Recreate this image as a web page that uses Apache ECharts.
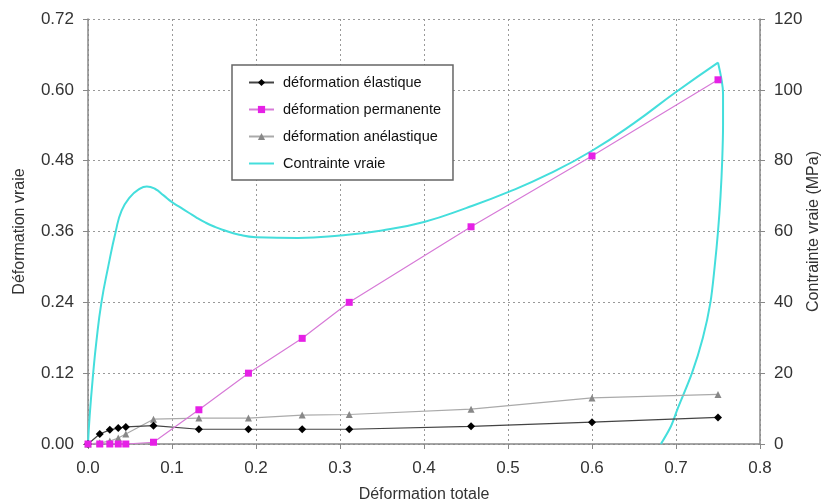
<!DOCTYPE html>
<html>
<head>
<meta charset="utf-8">
<script src="https://cdn.jsdelivr.net/npm/echarts@6/dist/echarts.min.js"></script>
<style>
	html, body { margin: 0; padding: 0; background: #fff; }
	#main { width: 825px; height: 504px; }
</style>
</head>
<body>
<div id="main"></div>
<script>
// déformations (axe gauche), mêmes abscisses pour les trois séries
var defTotale = [0, 0.014, 0.026, 0.036, 0.045, 0.078, 0.132, 0.191, 0.255, 0.311, 0.456, 0.6, 0.75];
var defElastique = [0, 0.017, 0.024, 0.027, 0.029, 0.031, 0.025, 0.025, 0.025, 0.025, 0.030, 0.037, 0.045];
var defPermanente = [0, 0, 0, 0, 0, 0.003, 0.058, 0.12, 0.179, 0.24, 0.368, 0.488, 0.617];
var defAnelastique = [0, 0.002, 0.005, 0.010, 0.017, 0.042, 0.044, 0.044, 0.049, 0.050, 0.059, 0.078, 0.084];

// contrainte vraie (axe droit, MPa) : charge
var chargeX = [0, 0.002, 0.006, 0.01, 0.016, 0.024, 0.033, 0.04, 0.05, 0.06, 0.07, 0.08, 0.09, 0.1, 0.11, 0.12, 0.13, 0.14, 0.15, 0.16, 0.18, 0.2, 0.25, 0.3, 0.35, 0.4, 0.45, 0.5, 0.55, 0.6, 0.65, 0.7, 0.75];
var chargeY = [0, 8, 19.5, 29, 40, 50, 60, 65.9, 69.7, 71.8, 72.7, 72, 70.2, 68.3, 66.8, 65.3, 63.8, 62.5, 61.4, 60.5, 59.1, 58.4, 58.2, 58.9, 60.3, 62.7, 66.6, 71.1, 76.4, 82.8, 90.6, 99.4, 107.7];
// décharge
var dechargeX = [0.75, 0.756, 0.756, 0.755, 0.753, 0.75, 0.746, 0.741, 0.732, 0.719, 0.702, 0.694, 0.682];
var dechargeY = [107.7, 99, 90, 80, 70, 60, 50, 40, 30, 20, 10, 5, 0];

var xTicks = ['0.0', '0.1', '0.2', '0.3', '0.4', '0.5', '0.6', '0.7', '0.8'];

function paires(xs, ys) {
	var out = [];
	for (var i = 0; i < xs.length; i++) {
		out.push([xs[i], ys[i]]);
	}
	return out;
}

var chart = echarts.init(document.getElementById('main'));
var police = 'Liberation Sans, Arial, sans-serif';
var grille = { show: true, lineStyle: { color: '#999', type: [2, 3], width: 1 } };
var cyan = '#44dedc';

var option = {
	backgroundColor: '#fff',
	animation: false,
	textStyle: { fontFamily: police },
	grid: { left: 88, right: 65, top: 19, bottom: 60, containLabel: false, outerBoundsMode: 'none' },
	legend: {
		orient: 'vertical',
		left: 232,
		top: 65,
		padding: [10, 12, 9, 16],
		itemWidth: 25,
		itemHeight: 9,
		itemGap: 12,
		borderColor: '#666',
		borderWidth: 1.5,
		backgroundColor: '#fff',
		textStyle: { fontSize: 14.5, color: '#111', fontFamily: police, padding: [0, 0, 0, 4] },
		data: [
			'déformation élastique',
			'déformation permanente',
			'déformation anélastique',
			{ name: 'Contrainte vraie', itemStyle: { opacity: 0 } }
		]
	},
	xAxis: {
		type: 'value',
		min: 0,
		max: 0.8,
		interval: 0.1,
		name: 'Déformation totale',
		nameLocation: 'middle',
		nameGap: 43,
		nameTextStyle: { fontSize: 16, color: '#333' },
		axisLine: { lineStyle: { color: '#888', width: 1.5 } },
		axisTick: { show: true, length: 5, lineStyle: { color: '#888' } },
		axisLabel: {
			fontSize: 17, color: '#333', margin: 16,
			formatter: function (v) { return xTicks[Math.round(v * 10)]; }
		},
		splitLine: grille
	},
	yAxis: [
		{
			type: 'value',
			min: 0,
			max: 0.72,
			interval: 0.12,
			name: 'Déformation vraie',
			nameLocation: 'middle',
			nameGap: 60,
			nameMoveOverlap: false,
			nameTextStyle: { fontSize: 16, color: '#333' },
			axisLine: { show: true, lineStyle: { color: '#888', width: 1.5 } },
			axisTick: { show: true, length: 5, lineStyle: { color: '#888' } },
			axisLabel: {
				fontSize: 17, color: '#333', margin: 14,
				formatter: function (v) { return v.toFixed(2); }
			},
			splitLine: grille
		},
		{
			type: 'value',
			min: 0,
			max: 120,
			interval: 20,
			name: 'Contrainte vraie (MPa)',
			nameLocation: 'middle',
			nameGap: 46,
			nameMoveOverlap: false,
			nameTextStyle: { fontSize: 16, color: '#333' },
			axisLine: { show: true, lineStyle: { color: '#888', width: 1.5 } },
			axisTick: { show: true, length: 5, lineStyle: { color: '#888' } },
			axisLabel: { fontSize: 17, color: '#333', margin: 14 },
			splitLine: { show: false }
		}
	],
	series: [
		{
			name: 'Contrainte vraie',
			type: 'line',
			yAxisIndex: 1,
			data: paires(chargeX, chargeY),
			smooth: 0.5,
			showSymbol: false,
			symbol: 'none',
			lineStyle: { color: cyan, width: 2 },
			itemStyle: { color: cyan },
			z: 2
		},
		{
			name: 'Contrainte vraie',
			type: 'line',
			yAxisIndex: 1,
			data: paires(dechargeX, dechargeY),
			smooth: 0.3,
			showSymbol: false,
			symbol: 'none',
			lineStyle: { color: cyan, width: 2 },
			itemStyle: { color: cyan },
			z: 2
		},
		{
			name: 'déformation anélastique',
			type: 'line',
			data: paires(defTotale, defAnelastique),
			symbol: 'triangle',
			symbolSize: 7,
			lineStyle: { color: '#aaa', width: 1.2 },
			itemStyle: { color: '#888' },
			z: 3
		},
		{
			name: 'déformation élastique',
			type: 'line',
			data: paires(defTotale, defElastique),
			symbol: 'diamond',
			symbolSize: 8,
			lineStyle: { color: '#444', width: 1.2 },
			itemStyle: { color: '#000' },
			z: 4
		},
		{
			name: 'déformation permanente',
			type: 'line',
			data: paires(defTotale, defPermanente),
			symbol: 'rect',
			symbolSize: 7,
			lineStyle: { color: '#d77ad7', width: 1.2 },
			itemStyle: { color: '#e620e6' },
			z: 5
		}
	]
};

chart.setOption(option);
</script>
</body>
</html>
